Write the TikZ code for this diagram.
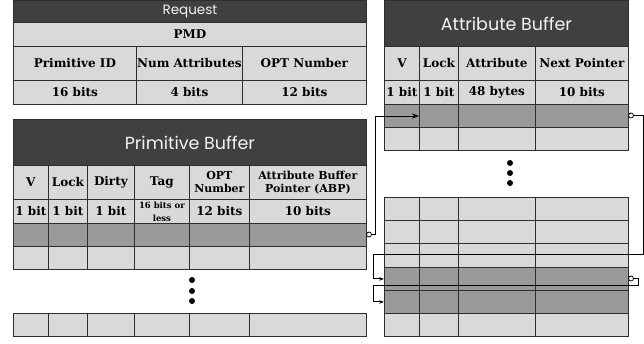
\documentclass[tikz,border=0pt]{standalone}
\usepackage{fontspec}
\setmainfont{DejaVu Serif}
\newfontfamily\titlefont{Poppins}
\usetikzlibrary{arrows.meta}
\definecolor{titlec}{HTML}{404040}
\definecolor{lightc}{HTML}{D9D9D9}
\definecolor{darkc}{HTML}{9A9A9A}
\definecolor{borderc}{HTML}{2E2E2E}
\definecolor{titletext}{HTML}{F2F2F2}
\newcommand\cellx[7]{\node[cellbox, fill=#6, minimum width={#4pt-#2pt}, minimum height={#5pt-#3pt}] (#1) at (#2,#3) {#7};}
\newcommand\smf{\fontsize{11}{12}\selectfont}
\newcommand\tnf{\fontsize{8.5}{8.5}\selectfont}
\begin{document}
\begin{tikzpicture}[x=1pt,y=-1pt,
  cellbox/.style={draw=borderc, line width=0.8pt, inner sep=0pt, anchor=north west, align=center, font=\bfseries\fontsize{12}{13}\selectfont},
  titlebox/.style={cellbox, fill=titlec, text=titletext},
  conn/.style={draw=black, line width=0.9pt},
  pin/.style={circle, draw=black, fill=white, line width=0.8pt, inner sep=0pt, minimum size=5pt},
  dotc/.style={fill=black}]
\useasboundingbox (0,0) rectangle (644,343);

% ---------- Request ----------
\node[titlebox, font=\titlefont\fontsize{13.5}{13.5}\selectfont, minimum width=353pt, minimum height=22pt] (rt) at (13,0) {Request};
\cellx{rpmd}{13}{22}{366}{46}{lightc}{PMD}
\cellx{rh1}{13}{46}{136}{80}{lightc}{Primitive ID}
\cellx{rh2}{136}{46}{242}{80}{lightc}{Num Attributes}
\cellx{rh3}{242}{46}{366}{80}{lightc}{OPT Number}
\cellx{rb1}{13}{80}{136}{104}{lightc}{16 bits}
\cellx{rb2}{136}{80}{242}{104}{lightc}{4 bits}
\cellx{rb3}{242}{80}{366}{104}{lightc}{12 bits}

% ---------- Primitive Buffer ----------
\node[titlebox, font=\titlefont\fontsize{17.5}{17.5}\selectfont, minimum width=353pt, minimum height=46pt] (pt) at (13,119) {Primitive Buffer};
\cellx{ph1}{13}{165}{48}{199}{lightc}{V}
\cellx{ph2}{48}{165}{87}{199}{lightc}{Lock}
\cellx{ph3}{87}{165}{134}{199}{lightc}{Dirty}
\cellx{ph4}{134}{165}{189}{199}{lightc}{Tag}
\cellx{ph5}{189}{165}{249}{199}{lightc}{\smf OPT\\\smf Number}
\cellx{ph6}{249}{165}{366}{199}{lightc}{\smf Attribute Buffer\\\smf Pointer (ABP)}
\cellx{pb1}{13}{199}{48}{223}{lightc}{1 bit}
\cellx{pb2}{48}{199}{87}{223}{lightc}{1 bit}
\cellx{pb3}{87}{199}{134}{223}{lightc}{1 bit}
\cellx{pb4}{134}{199}{189}{223}{lightc}{\tnf 16 bits or\\\tnf less}
\cellx{pb5}{189}{199}{249}{223}{lightc}{12 bits}
\cellx{pb6}{249}{199}{366}{223}{lightc}{10 bits}
\foreach \i/\a/\b in {1/13/48,2/48/87,3/87/134,4/134/189,5/189/249,6/249/366}{
  \cellx{pd\i}{\a}{223}{\b}{246}{darkc}{}
  \cellx{pl\i}{\a}{246}{\b}{269}{lightc}{}
  \cellx{pz\i}{\a}{313}{\b}{336}{lightc}{}
}
\fill[dotc] (192,280) circle (3pt) (192,291) circle (3pt) (192,301) circle (3pt);

% ---------- Attribute Buffer ----------
\node[titlebox, font=\titlefont\fontsize{17.5}{17.5}\selectfont, minimum width=244pt, minimum height=46pt] (at) at (384,0) {Attribute Buffer};
\cellx{ah1}{384}{46}{419}{80}{lightc}{V}
\cellx{ah2}{419}{46}{458}{80}{lightc}{Lock}
\cellx{ah3}{458}{46}{535}{80}{lightc}{Attribute}
\cellx{ah4}{535}{46}{628}{80}{lightc}{Next Pointer}
\cellx{ab1}{384}{80}{419}{104}{lightc}{1 bit}
\cellx{ab2}{419}{80}{458}{104}{lightc}{1 bit}
\cellx{ab3}{458}{80}{535}{104}{lightc}{48 bytes}
\cellx{ab4}{535}{80}{628}{104}{lightc}{10 bits}
\foreach \i/\a/\b in {1/384/419,2/419/458,3/458/535,4/535/628}{
  \cellx{ad\i}{\a}{104}{\b}{127}{darkc}{}
  \cellx{al\i}{\a}{127}{\b}{150}{lightc}{}
  \cellx{aqa\i}{\a}{197}{\b}{220}{lightc}{}
  \cellx{aqb\i}{\a}{220}{\b}{243}{lightc}{}
  \cellx{aqc\i}{\a}{243}{\b}{267}{lightc}{}
  \cellx{aqd\i}{\a}{267}{\b}{290}{darkc}{}
  \cellx{aqe\i}{\a}{290}{\b}{313}{darkc}{}
  \cellx{aqf\i}{\a}{313}{\b}{336}{lightc}{}
}
\fill[dotc] (510,163) circle (3pt) (510,173) circle (3pt) (510,183) circle (3pt);

% ---------- Connectors ----------
\node[pin] (pA) at (369,234.5) {};
\node[pin] (pB) at (631,115.5) {};
\node[pin] (pC) at (631,278.5) {};
\draw[conn, -{Stealth[length=7pt,width=5pt]}] (pA.east) -| (375,116) -- (ad2.west |- 0,116);
\draw[conn, -{Stealth[length=5pt,width=3.5pt]}] (pB.east) -- (643,115.5) |- (373,254) |- (aqd1.west);
\draw[conn, -{Stealth[length=5pt,width=3.5pt]}] (pC.east) -- (638,278.5) |- (373,285) |- (aqe1.west);
\end{tikzpicture}
\end{document}
